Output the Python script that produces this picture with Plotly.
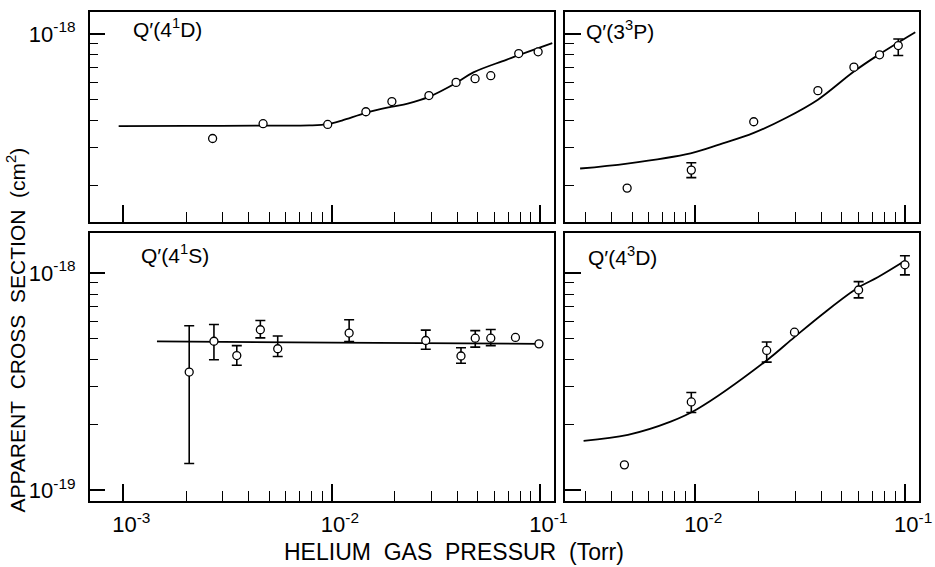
import plotly.graph_objects as go

# ---------------- data ----------------
# Q'(4^1D)  (top-left)
d41_x = [0.00268, 0.00468, 0.00955, 0.01456, 0.0194, 0.0292, 0.0394, 0.0486, 0.0578, 0.0787, 0.0975]
d41_y = [3.30e-19, 3.86e-19, 3.83e-19, 4.38e-19, 4.88e-19, 5.20e-19, 5.98e-19, 6.22e-19, 6.42e-19, 8.12e-19, 8.27e-19]
c41_x = [0.00095, 0.002, 0.005, 0.0078, 0.00955, 0.01117, 0.01456, 0.0192, 0.0231, 0.0292, 0.0394, 0.0477, 0.0686, 0.114]
c41_y = [3.76e-19, 3.77e-19, 3.78e-19, 3.79e-19, 3.84e-19, 3.99e-19, 4.33e-19, 4.61e-19, 4.78e-19, 5.13e-19, 5.94e-19, 6.65e-19, 7.60e-19, 9.06e-19]

# Q'(3^3P)  (top-right)
p33_x = [0.00474, 0.00958, 0.019, 0.0384, 0.057, 0.0755, 0.0927]
p33_y = [1.95e-19, 2.36e-19, 3.94e-19, 5.48e-19, 7.03e-19, 8.01e-19, 8.84e-19]
p33_hi = [None, 2.55e-19, None, None, None, None, 9.48e-19]
p33_lo = [None, 2.18e-19, None, None, None, None, 7.95e-19]
c33_x = [0.00283, 0.00474, 0.0095, 0.0131, 0.019, 0.0270, 0.0384, 0.057, 0.0755, 0.1117]
c33_y = [2.40e-19, 2.53e-19, 2.82e-19, 3.10e-19, 3.50e-19, 4.10e-19, 4.98e-19, 6.71e-19, 8.07e-19, 1.018e-18]

# Q'(4^1S)  (bottom-left)
s41_x = [0.00207, 0.00272, 0.0035, 0.00454, 0.0055, 0.0121, 0.0282, 0.0416, 0.0487, 0.0578, 0.0759, 0.0984]
s41_y = [3.50e-19, 4.85e-19, 4.17e-19, 5.48e-19, 4.48e-19, 5.29e-19, 4.89e-19, 4.15e-19, 5.01e-19, 5.01e-19, 5.05e-19, 4.72e-19]
s41_hi = [5.72e-19, 5.79e-19, 4.63e-19, 6.04e-19, 5.13e-19, 6.09e-19, 5.46e-19, 4.53e-19, 5.43e-19, 5.49e-19, None, None]
s41_lo = [1.33e-19, 3.99e-19, 3.76e-19, 5.03e-19, 4.13e-19, 4.84e-19, 4.46e-19, 3.84e-19, 4.56e-19, 4.63e-19, None, None]
cs41_x = [0.00145, 0.01, 0.0984]
cs41_y = [4.84e-19, 4.78e-19, 4.72e-19]

# Q'(4^3D)  (bottom-right)
d43_x = [0.0046, 0.00958, 0.0219, 0.0297, 0.060, 0.0997]
d43_y = [1.31e-19, 2.55e-19, 4.40e-19, 5.34e-19, 8.35e-19, 1.09e-18]
d43_hi = [None, 2.82e-19, 4.81e-19, None, 9.12e-19, 1.20e-18]
d43_lo = [None, 2.28e-19, 3.89e-19, None, 7.68e-19, 9.80e-19]
c43_x = [0.00294, 0.00478, 0.00764, 0.0102, 0.0219, 0.0297, 0.0415, 0.060, 0.074, 0.1002]
c43_y = [1.69e-19, 1.80e-19, 2.07e-19, 2.36e-19, 3.96e-19, 5.07e-19, 6.60e-19, 8.59e-19, 9.55e-19, 1.14e-18]

panel_labels = ["Q′(4<sup>1</sup>D)", "Q′(3<sup>3</sup>P)", "Q′(4<sup>1</sup>S)", "Q′(4<sup>3</sup>D)"]
x_major = [1e-3, 1e-2, 1e-1]
x_major_text = ["10<sup>-3</sup>", "10<sup>-2</sup>", "10<sup>-1</sup>"]
y_major = [1e-19, 1e-18]
y_major_text = ["10<sup>-19</sup>", "10<sup>-18</sup>"]
x_title = "HELIUM\u00a0\u00a0GAS\u00a0\u00a0PRESSUR\u00a0\u00a0(Torr)"
y_title = "APPARENT\u00a0\u00a0CROSS\u00a0\u00a0SECTION\u00a0\u00a0(cm<sup>2</sup>)"

# ---------------- figure ----------------
W, H = 935, 567
FONT = "Liberation Sans, Arial, sans-serif"
fig = go.Figure()

x_minor = [m * 10.0 ** e for e in (-3, -2) for m in range(2, 10)]
y_minor = [m * 1e-19 for m in range(2, 10)]


def add_panel(k, cx, cy, px, py, hi=None, lo=None):
    xa = "x" if k == 1 else f"x{k}"
    ya = "y" if k == 1 else f"y{k}"
    fig.add_trace(go.Scatter(x=cx, y=cy, mode="lines", line=dict(color="black", width=1.8, shape="spline", smoothing=1.0),
                             xaxis=xa, yaxis=ya, showlegend=False, hoverinfo="skip"))
    if hi is not None:
        ex, ey, up, dn = [], [], [], []
        for xv, yv, h, l in zip(px, py, hi, lo):
            if h is not None:
                ex.append(xv); ey.append(yv); up.append(h - yv); dn.append(yv - l)
        fig.add_trace(go.Scatter(x=ex, y=ey, mode="markers", marker=dict(size=8, opacity=0),
                                 error_y=dict(type="data", symmetric=False, array=up, arrayminus=dn,
                                              color="black", thickness=1.6, width=5),
                                 xaxis=xa, yaxis=ya, showlegend=False, hoverinfo="skip"))
    fig.add_trace(go.Scatter(x=px, y=py, mode="markers",
                             marker=dict(symbol="circle", size=8, color="white", line=dict(color="black", width=1.3)),
                             xaxis=xa, yaxis=ya, showlegend=False))


add_panel(1, c41_x, c41_y, d41_x, d41_y)
add_panel(2, c33_x, c33_y, p33_x, p33_y, p33_hi, p33_lo)
add_panel(3, cs41_x, cs41_y, s41_x, s41_y, s41_hi, s41_lo)
add_panel(4, c43_x, c43_y, d43_x, d43_y, d43_hi, d43_lo)


def px2fx(p):
    return p / W


def px2fy(p):
    return 1 - p / H


xl = [px2fx(91), px2fx(562)]
xr = [px2fx(573), px2fx(932)]
yt = [px2fy(223), px2fy(12)]
yb = [px2fy(503), px2fy(234)]
rng_xl = [-3.161, -0.934]
rng_xr = [-2.62, -0.934]
rng_yt = [-18.867, -17.899]
rng_yb = [-19.05, -17.817]

tickfont = dict(family=FONT, size=22, color="black")


def xaxis(domain, rng, anchor, labels):
    return dict(type="log", domain=domain, range=rng, anchor=anchor, showline=True, mirror=True,
                linecolor="black", linewidth=1.5, showgrid=False, zeroline=False,
                ticks="inside", ticklen=17, tickwidth=1.5, tickcolor="black",
                tickvals=x_major, ticktext=x_major_text, showticklabels=labels,
                tickfont=tickfont, ticklabelshift=8, ticklabelstandoff=3,
                minor=dict(ticks="inside", ticklen=10, tickwidth=1.3, tickcolor="black",
                           tickvals=x_minor, showgrid=False))


def yaxis(domain, rng, anchor, labels):
    return dict(type="log", domain=domain, range=rng, anchor=anchor, showline=True, mirror=True,
                linecolor="black", linewidth=1.5, showgrid=False, zeroline=False,
                ticks="inside", ticklen=16, tickwidth=1.5, tickcolor="black",
                tickvals=y_major, ticktext=y_major_text, showticklabels=labels,
                tickfont=tickfont, ticklabelstandoff=8,
                minor=dict(ticks="inside", ticklen=9, tickwidth=1.3, tickcolor="black",
                           tickvals=y_minor, showgrid=False))


fig.update_layout(
    width=W, height=H, margin=dict(l=0, r=0, t=0, b=0),
    paper_bgcolor="white", plot_bgcolor="white",
    font=dict(family=FONT, color="black"),
    xaxis=xaxis(xl, rng_xl, "y", False),
    yaxis=yaxis(yt, rng_yt, "x", True),
    xaxis2=xaxis(xr, rng_xr, "y2", False),
    yaxis2=yaxis(yt, rng_yt, "x2", False),
    xaxis3=xaxis(xl, rng_xl, "y3", True),
    yaxis3=yaxis(yb, rng_yb, "x3", True),
    xaxis4=xaxis(xr, rng_xr, "y4", True),
    yaxis4=yaxis(yb, rng_yb, "x4", False),
)

label_pos = [(133, 28), (592, 30), (141, 255), (594, 257)]
for txt, (lx, ly) in zip(panel_labels, label_pos):
    fig.add_annotation(text=txt, x=px2fx(lx), y=px2fy(ly), xref="paper", yref="paper",
                       xanchor="left", yanchor="middle", showarrow=False,
                       font=dict(family=FONT, size=21, color="black"))

fig.add_annotation(text=x_title, x=px2fx(460), y=px2fy(554), xref="paper", yref="paper",
                   xanchor="center", yanchor="middle", showarrow=False,
                   font=dict(family=FONT, size=23, color="black"))
fig.add_annotation(text=y_title, x=px2fx(16), y=px2fy(331), xref="paper", yref="paper",
                   xanchor="center", yanchor="middle", showarrow=False, textangle=-90,
                   font=dict(family=FONT, size=21, color="black"))

fig.write_html("out.html")
